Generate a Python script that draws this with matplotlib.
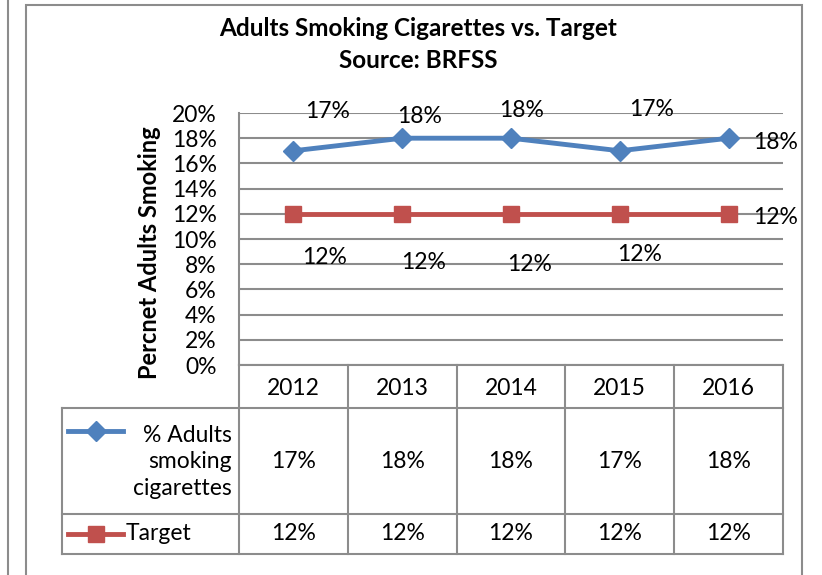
import numpy as np
import matplotlib
matplotlib.use("Agg")
from matplotlib import pyplot as plt
from matplotlib.lines import Line2D
from matplotlib.patches import Rectangle

plt.rcParams["font.family"] = ["Lato", "DejaVu Sans"]

years = ["2012", "2013", "2014", "2015", "2016"]
adults_smoking = [17, 18, 18, 17, 18]
target = [12, 12, 12, 12, 12]
y_ticks = list(range(0, 21, 2))
series_names = ["% Adults\nsmoking\ncigarettes", "Target"]

BLUE = "#4F81BD"
RED = "#C0504D"
GRID = "#8C8C8C"
FS = 16.5

W, H = 822, 575
fig = plt.figure(figsize=(W / 100, H / 100), dpi=100)


def fx(px):
    return px / W


def fy(py):
    return 1 - py / H


# frame lines around the chart
fig.add_artist(Line2D([fx(8), fx(8)], [0, 1], color=GRID, lw=1.5))
fig.add_artist(Rectangle((fx(26), fy(578)), fx(802 - 26), (578 - 5) / H,
                         fill=False, edgecolor=GRID, lw=1.5))

# plot area
left, right, top, bottom = 239, 783, 113, 365
ax = fig.add_axes([fx(left), fy(bottom), fx(right - left), (bottom - top) / H])
x = np.arange(len(years))
ax.set_xlim(-0.5, len(years) - 0.5)
ax.set_ylim(0, 20)
ax.set_yticks(y_ticks)
ax.set_yticklabels([f"{t}%" for t in y_ticks], fontsize=FS)
ax.tick_params(axis="y", length=0, pad=16)
ax.set_xticks([])
for s in ["top", "right", "bottom"]:
    ax.spines[s].set_visible(False)
ax.spines["left"].set_color(GRID)
ax.spines["left"].set_linewidth(1.5)
ax.yaxis.grid(True, color=GRID, lw=1.5)
ax.set_axisbelow(True)
# excel puts the axis title a bit below the middle
ax.text(-0.164, 0.444, "Percnet Adults Smoking", transform=ax.transAxes,
        rotation=90, ha="center", va="center", fontsize=17, fontweight="bold")

ax.plot(x, adults_smoking, color=BLUE, lw=3.5, marker="D", ms=10, zorder=3)
ax.plot(x, target, color=RED, lw=3.5, marker="s", ms=12, zorder=3)

# data labels (offsets in pixels, like Excel's odd placement)
blue_off = [(34, 39), (17, 22), (11, 28), (32, 41), (47, -4)]
red_off = [(31, -44), (21, -49), (19, -51), (20, -41), (47, -4)]
for i in range(len(years)):
    ax.annotate(f"{adults_smoking[i]}%", (x[i], adults_smoking[i]),
                xytext=blue_off[i], textcoords="offset pixels",
                ha="center", va="center", fontsize=FS)
    ax.annotate(f"{target[i]}%", (x[i], target[i]),
                xytext=red_off[i], textcoords="offset pixels",
                ha="center", va="center", fontsize=FS)

# data table below the plot
tax = fig.add_axes([0, 0, 1, 1], facecolor="none")
tax.set_xlim(0, W)
tax.set_ylim(H, 0)
tax.axis("off")

col_w = (right - left) / len(years)
row_top, row1, row2, row_bot = bottom, 408, 514, 554
leg_left = 62
kw = dict(color=GRID, lw=1.5)
tax.plot([left, right], [row_top, row_top], **kw)
for i in range(len(years) + 1):
    cx = left + i * col_w
    tax.plot([cx, cx], [row_top, row_bot], **kw)
tax.plot([leg_left, leg_left], [row1, row_bot], **kw)
for yy in [row1, row2, row_bot]:
    tax.plot([leg_left, right], [yy, yy], **kw)

for i, yr in enumerate(years):
    cx = left + (i + 0.5) * col_w
    tax.text(cx, (row_top + row1) / 2 + 2, yr, ha="center", va="center", fontsize=FS)
    tax.text(cx, (row1 + row2) / 2, f"{adults_smoking[i]}%", ha="center", va="center", fontsize=FS)
    tax.text(cx, (row2 + row_bot) / 2, f"{target[i]}%", ha="center", va="center", fontsize=FS)

# legend keys inside the table
tax.plot([68, 123], [431, 431], color=BLUE, lw=3.5)
tax.plot([95.5], [431], color=BLUE, marker="D", ms=10)
tax.text(232, (row1 + row2) / 2 + 1, series_names[0], ha="right", va="center",
         fontsize=FS, linespacing=1.3)
tax.plot([68, 123], [534, 534], color=RED, lw=3.5)
tax.plot([95.5], [534], color=RED, marker="s", ms=11)
tax.text(126, (row2 + row_bot) / 2, series_names[1], ha="left", va="center", fontsize=FS)

fig.text(fx(418), fy(28), "Adults Smoking Cigarettes vs. Target", ha="center",
         va="center", fontsize=17.5, fontweight="bold")
fig.text(fx(418), fy(60), "Source: BRFSS", ha="center", va="center",
         fontsize=17.5, fontweight="bold")

fig.savefig("out.png", dpi=100)
